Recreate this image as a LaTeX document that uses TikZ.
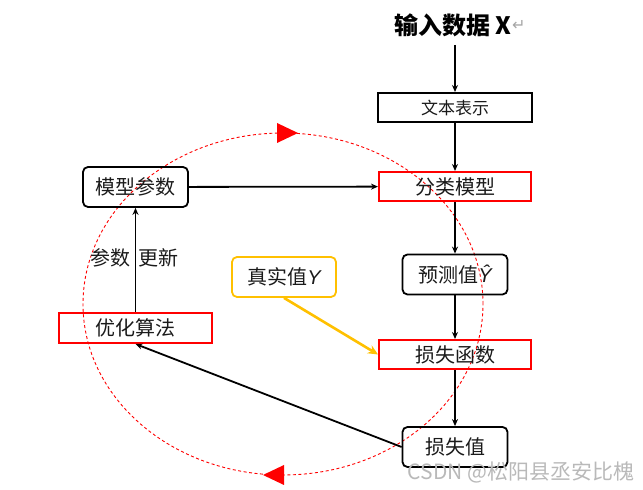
\documentclass[tikz,border=0pt]{standalone}
\usepackage{fontspec}
\setmainfont{Noto Sans CJK SC}
\newfontfamily\cjk{Noto Sans CJK SC}
\newfontfamily\lat{Liberation Sans}
\newfontfamily\dejavu{DejaVu Sans}
\usetikzlibrary{arrows.meta}
\definecolor{myred}{HTML}{FF0000}
\definecolor{myorange}{HTML}{FFC000}
\definecolor{mytext}{HTML}{1A1A1A}
\begin{document}
\begin{tikzpicture}[x=1pt,y=1pt,
  txt/.style={font=\cjk\fontsize{20}{22}\selectfont, text=mytext, inner sep=0pt, align=center},
  sqbox/.style={txt, draw=black, line width=2pt, minimum width=154pt, minimum height=29pt},
  redbox/.style={txt, draw=myred, line width=2pt, minimum width=152pt, minimum height=29pt},
  rbox/.style={txt, draw=black, line width=1.8pt, rounded corners=5pt, minimum width=105pt, minimum height=40pt},
  obox/.style={txt, draw=myorange, line width=1.8pt, rounded corners=5pt, minimum width=104pt, minimum height=40pt},
  arr/.style={line width=1.8pt, -{Stealth[length=7pt,width=6pt]}},
  oarr/.style={draw=myorange, line width=2.6pt, -{Stealth[length=10pt,width=9pt]}}
]
\useasboundingbox (0,0) rectangle (643,490);

% red dashed cycle
\draw[myred, line width=0.9pt, dash pattern=on 3pt off 2.5pt] (283,186) ellipse [x radius=200, y radius=171];
\fill[myred] (277,367) -- (277,347) -- (298,357) -- cycle;
\fill[myred] (284,25) -- (284,5) -- (263,15) -- cycle;

% title
\node[font=\cjk\bfseries\fontsize{24}{26}\selectfont, inner sep=0pt] (title) at (453,465) {输入数据 X};
\node[font=\dejavu\fontsize{16}{18}\selectfont, text=gray!70, inner sep=0pt, anchor=west] (ret) at (title.east) {↵};
\coordinate (tbot) at (455,445);

% nodes
\node[sqbox, font=\cjk\fontsize{17}{20}\selectfont] (wbbs) at (455,382.5) {文本表示};
\node[redbox] (flmx) at (455,303.5) {分类模型};
\node[rbox] (ycz) at (455,215.5) {预测值{\lat\itshape Ŷ}};
\node[redbox] (ssfs) at (455,135.5) {损失函数};
\node[rbox] (ssz) at (455,43) {损失值};
\node[rbox] (mxcs) at (135.5,303) {模型参数};
\node[redbox, minimum width=153pt, minimum height=30pt] (yhsf) at (135.5,162) {优化算法};
\node[obox] (zsz) at (284,213) {真实值{\lat\itshape Y}};
\node[txt] (gx) at (134,232) {参数\hspace{8pt}更新};

% connectors
\draw[arr] (tbot) -- (wbbs.north);
\draw[arr] (wbbs) -- (flmx);
\draw[arr] (flmx) -- (ycz);
\draw[arr] (ycz) -- (ssfs);
\draw[arr] (ssfs) -- (ssz);
\draw[arr] (mxcs) -- (flmx);
\draw[arr] (yhsf) -- (mxcs);
\draw[oarr] (zsz.south) -- (ssfs.west);
\draw[arr] (ssz.west) -- (yhsf.south);

% watermark
\node[font=\cjk\fontsize{21}{23}\selectfont, text=gray!55, inner sep=0pt] (wm) at (521,18) {CSDN @松阳县丞安比槐};
\end{tikzpicture}
\end{document}
